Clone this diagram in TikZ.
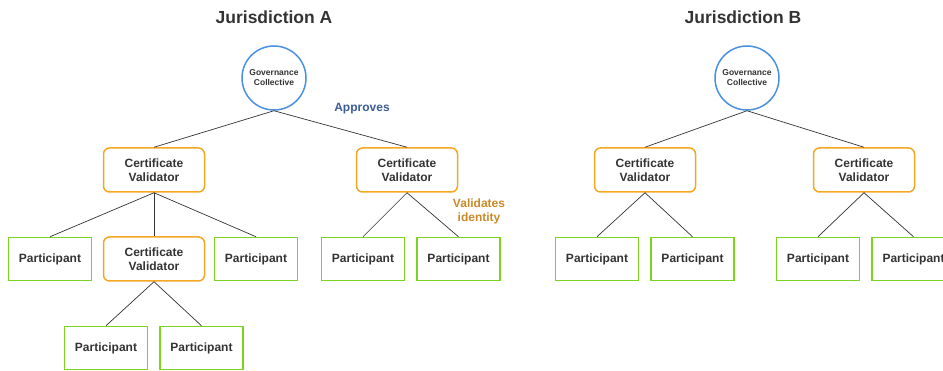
\documentclass[tikz,border=0pt]{standalone}
\usepackage{fontspec}
\setmainfont{Liberation Sans}
\usepackage{tikz}
\usetikzlibrary{positioning}

\definecolor{govblue}{HTML}{4A90E2}
\definecolor{valorange}{HTML}{F5A623}
\definecolor{partgreen}{HTML}{7ED321}
\definecolor{inktext}{HTML}{333333}
\definecolor{approvetext}{HTML}{3D5C98}
\definecolor{identtext}{HTML}{C98A27}

\tikzset{
	gov/.style={draw=govblue,line width=1.5pt,circle,minimum size=64pt,inner sep=0pt,align=center,font=\fontsize{8.5}{10}\selectfont\bfseries,text=inktext},
	validator/.style={draw=valorange,line width=1.5pt,rectangle,rounded corners=6pt,minimum width=101pt,minimum height=44pt,align=center,font=\fontsize{12}{14}\selectfont\bfseries,text=inktext},
	participant/.style={draw=partgreen,line width=1.5pt,rectangle,minimum width=83pt,minimum height=43pt,font=\fontsize{12}{14}\selectfont\bfseries,text=inktext},
	jtitle/.style={font=\fontsize{17.5}{20}\selectfont\bfseries,text=inktext},
	link/.style={draw=inktext,line width=0.7pt}
}

\begin{document}
\begin{tikzpicture}[x=1pt,y=-1pt]
				\useasboundingbox (0,0) rectangle (943,371);

				% jurisdiction A
				\node[jtitle] (titleA) at (274,17) {Jurisdiction A};
				\node[gov] (govA) at (274,78) {Governance\\Collective};
				\node[validator] (valA1) at (154,170) {Certificate\\Validator};
				\node[validator] (valA2) at (407,170) {Certificate\\Validator};
				\node[participant] (partA1) at (50,259) {Participant};
				\node[validator] (valA3) at (154,259) {Certificate\\Validator};
				\node[participant] (partA2) at (256,259) {Participant};
				\node[participant] (partA3) at (106,348) {Participant};
				\node[participant] (partA4) [right=11pt of partA3] {Participant};
				\node[participant] (partA5) at (363,259) {Participant};
				\node[participant] (partA6) [right=11pt of partA5] {Participant};
				\node[text=approvetext,font=\fontsize{12}{14}\selectfont\bfseries] (approves) at (362,109) {Approves};
				\node[text=identtext,font=\fontsize{12}{14}\selectfont\bfseries,align=center] (validates) at (479,211) {Validates\\identity};

				% jurisdiction B
				\node[jtitle] (titleB) at (743,17) {Jurisdiction B};
				\node[gov] (govB) at (747,78) {Governance\\Collective};
				\node[validator] (valB1) at (645,170) {Certificate\\Validator};
				\node[validator] (valB2) at (864,170) {Certificate\\Validator};
				\node[participant] (partB1) at (597,259) {Participant};
				\node[participant] (partB2) [right=11pt of partB1] {Participant};
				\node[participant] (partB3) at (818,259) {Participant};
				\node[participant] (partB4) [right=11pt of partB3] {Participant};

				\draw[link]
				(govA.south) edge (valA1.north)
				(govA.south) edge (valA2.north)
				(valA1.south) edge (partA1.north)
				(valA1.south) edge (valA3.north)
				(valA1.south) edge (partA2.north)
				(valA3.south) edge (partA3.north)
				(valA3.south) edge (partA4.north)
				(valA2.south) edge (partA5.north)
				(valA2.south) edge (partA6.north)
				(govB.south) edge (valB1.north)
				(govB.south) edge (valB2.north)
				(valB1.south) edge (partB1.north)
				(valB1.south) edge (partB2.north)
				(valB2.south) edge (partB3.north)
				(valB2.south) edge (partB4.north);
			\end{tikzpicture}
\end{document}
